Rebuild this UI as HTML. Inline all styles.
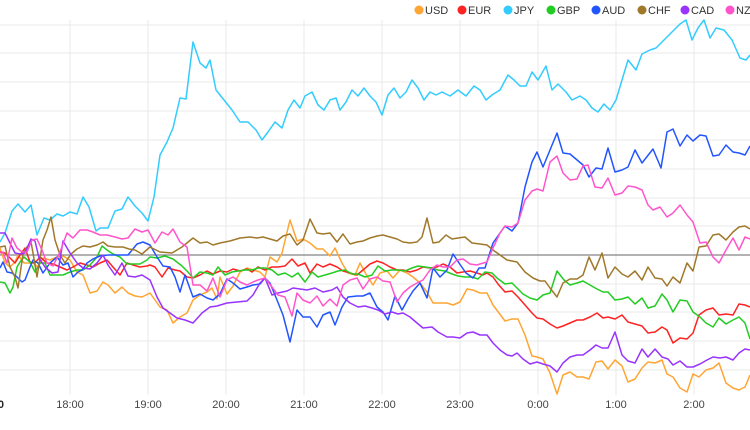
<!DOCTYPE html>
<html><head><meta charset="utf-8"><style>
html,body{margin:0;padding:0;background:#fff;}
svg{display:block;font-family:"Liberation Sans",sans-serif;}
</style></head><body>
<svg width="750" height="430" viewBox="0 0 750 430" xmlns="http://www.w3.org/2000/svg">
<g stroke="#e8e8e8" stroke-width="1">
<line x1="0" y1="25" x2="750" y2="25"/><line x1="0" y1="53" x2="750" y2="53"/><line x1="0" y1="82" x2="750" y2="82"/><line x1="0" y1="111" x2="750" y2="111"/><line x1="0" y1="140" x2="750" y2="140"/><line x1="0" y1="169" x2="750" y2="169"/><line x1="0" y1="198" x2="750" y2="198"/><line x1="0" y1="226" x2="750" y2="226"/><line x1="0" y1="284" x2="750" y2="284"/><line x1="0" y1="312" x2="750" y2="312"/><line x1="0" y1="341" x2="750" y2="341"/><line x1="0" y1="370" x2="750" y2="370"/>
<line x1="70" y1="20" x2="70" y2="395"/><line x1="148" y1="20" x2="148" y2="395"/><line x1="226" y1="20" x2="226" y2="395"/><line x1="304" y1="20" x2="304" y2="395"/><line x1="382" y1="20" x2="382" y2="395"/><line x1="460" y1="20" x2="460" y2="395"/><line x1="538" y1="20" x2="538" y2="395"/><line x1="616" y1="20" x2="616" y2="395"/><line x1="694" y1="20" x2="694" y2="395"/>
</g>
<line x1="0" y1="255" x2="750" y2="255" stroke="#666" stroke-width="1"/>
<g fill="none" stroke-width="1.5" stroke-linejoin="round">
<polyline stroke="#ffa533" points="0,248 5,263 10,267 15,262 18,255 24,263 29,263 33,263 38,267 43,258 50,260 57,257 63,256 70,260 77,272 83,275 90,293 97,291 103,282 108,285 115,293 122,287 128,293 135,296 142,297 150,293 160,307 167,310 173,323 180,317 187,313 193,300 200,295 207,292 212,288 217,299 220,277 227,294 233,286 240,272 247,268 253,270 260,272 265,277 270,257 277,262 282,253 290,220 297,241 303,239 310,243 317,249 323,249 330,256 335,248 342,263 348,273 355,275 360,263 367,276 373,285 380,273 387,271 393,278 400,270 407,273 413,277 420,283 427,292 433,303 440,303 447,303 453,305 460,302 467,289 473,290 480,293 487,293 493,305 505,321 512,319 518,319 525,335 532,356 537,357 543,359 550,373 557,394 563,375 570,372 577,377 583,377 589,379 596,362 602,361 608,369 615,360 622,366 628,382 635,379 642,368 648,362 655,363 662,360 667,374 673,377 680,388 687,392 693,374 699,377 706,370 713,368 719,363 726,383 733,388 739,390 745,387 750,375"/>
<polyline stroke="#ff2222" points="0,252 5,253 10,258 15,263 20,255 25,248 30,262 35,263 40,257 47,263 53,264 60,267 67,270 73,267 80,263 87,265 93,267 100,263 107,260 113,267 120,275 127,263 133,265 140,267 147,266 150,265 155,267 162,277 168,268 175,270 180,271 187,277 193,278 200,275 207,271 213,274 220,271 227,272 233,269 240,271 247,269 252,272 258,267 265,270 272,267 278,267 285,266 292,259 298,266 305,263 310,273 317,264 323,267 330,264 337,267 343,271 350,273 357,275 363,270 370,264 377,261 383,263 390,267 397,270 403,270 410,272 417,270 423,267 430,268 437,267 443,264 450,267 457,273 463,272 470,271 477,273 483,275 487,273 493,277 498,284 505,292 512,291 518,297 525,305 532,313 537,318 543,319 550,324 557,328 563,326 570,323 577,320 583,320 590,317 597,313 603,318 608,317 615,319 622,315 628,322 635,324 642,326 648,333 655,332 662,327 667,330 673,343 680,338 687,339 693,333 699,315 706,310 713,308 719,315 726,314 733,315 739,304 745,305 750,307"/>
<polyline stroke="#33ccff" points="0,242 5,233 12,211 18,204 25,212 31,205 37,235 44,218 50,220 57,214 63,216 70,212 77,214 83,197 89,207 96,231 100,228 108,228 115,211 122,209 128,197 135,206 142,213 148,221 154,197 160,155 167,142 173,128 180,98 186,99 193,42 200,63 206,68 210,60 216,90 224,100 232,110 240,122 248,122 256,130 262,140 268,132 275,122 282,128 288,110 294,100 300,108 305,96 312,92 318,105 324,110 330,100 336,98 340,110 346,102 352,90 358,96 364,88 370,96 376,102 382,115 388,95 394,88 400,98 406,92 412,80 418,88 424,100 430,92 436,95 442,92 450,96 458,90 466,96 474,86 480,90 486,100 492,95 500,90 508,75 514,80 520,86 526,86 532,72 538,80 546,66 552,90 558,84 566,92 572,100 580,96 586,100 592,108 598,112 604,104 610,110 616,100 622,80 628,60 636,70 642,54 650,50 656,48 662,42 668,36 674,30 680,24 686,20 692,40 698,28 704,20 710,38 716,28 724,30 732,40 740,58 746,60 750,55"/>
<polyline stroke="#22cc22" points="0,282 5,283 10,293 13,287 17,267 20,262 24,257 30,262 35,272 40,263 45,263 50,275 57,275 63,275 70,272 77,270 83,270 90,265 97,257 102,246 107,250 113,254 120,257 127,264 133,264 140,264 147,260 150,257 157,258 165,256 173,259 182,266 188,272 193,278 200,272 207,273 213,275 218,267 225,275 232,272 238,271 245,270 252,270 258,268 265,268 272,270 278,275 285,273 292,277 298,273 305,282 312,272 318,277 325,275 332,273 338,271 345,270 352,274 358,274 365,277 372,275 378,266 385,271 392,270 398,270 405,271 412,268 418,266 425,267 432,268 438,270 445,271 452,274 458,276 465,277 472,277 478,279 485,272 492,273 497,278 505,284 512,283 523,294 530,298 537,300 543,295 550,293 557,271 564,280 570,285 577,283 583,281 590,285 597,289 603,292 608,292 615,300 622,299 628,297 635,304 642,298 648,308 655,306 662,294 667,300 673,312 680,300 687,301 693,312 700,317 706,323 713,327 719,318 726,324 733,320 739,317 745,323 750,339"/>
<polyline stroke="#2255ff" points="0,268 3,262 7,272 12,273 17,277 22,282 25,280 30,267 33,260 38,263 43,273 50,263 57,257 63,265 68,263 73,277 78,272 82,270 87,263 93,259 100,256 108,255 115,255 122,255 128,255 137,244 143,242 150,245 157,257 163,266 170,267 175,277 180,292 185,275 193,297 200,294 207,298 213,300 220,294 227,279 233,283 240,289 247,287 253,285 260,284 265,278 270,283 277,300 283,315 290,342 297,310 303,317 310,317 317,327 323,315 330,312 335,325 342,307 348,297 357,296 363,296 370,293 377,307 383,312 388,320 395,296 402,310 408,299 413,291 420,283 427,298 433,268 440,277 447,270 453,254 459,263 466,273 473,278 479,268 485,268 493,243 500,233 505,226 512,231 518,223 525,187 532,162 537,152 543,167 557,133 563,153 570,154 583,165 589,177 596,168 602,169 608,148 615,172 622,170 628,167 635,150 642,163 653,149 661,168 667,132 673,129 680,146 687,135 693,141 700,135 706,136 713,156 719,155 726,145 733,152 739,153 745,155 750,146"/>
<polyline stroke="#a0782a" points="0,247 5,246 10,267 15,277 18,288 23,254 27,247 31,242 33,253 37,277 43,240 47,230 51,217 55,240 60,255 65,263 71,254 77,249 83,246 90,247 97,245 103,242 108,246 115,247 123,247 129,249 135,250 142,254 150,247 160,252 172,253 182,247 193,238 200,243 207,242 213,245 220,243 230,241 240,238 250,237 257,238 263,237 270,239 277,241 283,236 290,234 297,245 303,240 310,219 317,233 323,234 330,233 337,242 343,234 350,244 357,242 363,241 370,238 377,236 383,235 390,237 397,239 403,242 410,243 417,242 422,237 427,218 433,243 439,242 446,235 452,239 458,238 465,237 472,243 480,244 487,245 493,250 500,255 507,260 517,262 525,272 533,278 540,281 545,281 550,288 557,297 563,283 570,279 577,279 583,275 589,257 595,270 602,253 608,278 615,267 622,274 628,277 635,271 642,280 648,267 655,278 662,279 667,286 673,277 680,283 687,263 693,271 699,247 706,246 713,235 719,234 726,240 733,232 739,227 745,226 750,229"/>
<polyline stroke="#9933ff" points="0,233 5,233 10,243 15,253 20,254 25,253 31,239 35,241 39,258 45,267 52,273 58,272 63,241 70,253 77,263 83,268 90,269 97,263 103,255 108,265 115,275 122,263 128,276 135,277 142,275 150,280 157,297 163,308 170,313 177,318 185,320 193,323 202,313 210,307 217,306 227,303 237,302 247,301 253,295 260,283 265,278 272,295 278,293 287,291 293,288 300,289 307,290 315,288 323,292 332,290 337,287 343,297 350,303 358,307 365,306 372,308 378,310 385,314 392,312 398,314 403,313 410,317 417,323 423,328 432,327 438,332 447,337 453,337 460,338 467,333 473,332 480,335 487,335 493,343 500,350 507,355 512,356 517,353 523,359 530,364 537,362 543,364 550,366 557,372 563,363 570,357 577,355 583,355 590,350 596,345 602,348 608,348 615,332 622,355 628,361 635,363 642,349 648,357 655,349 662,357 668,359 673,365 680,361 687,367 693,367 700,364 707,360 713,357 720,358 726,357 733,360 739,353 745,349 750,350"/>
<polyline stroke="#ff55cc" points="0,253 3,252 7,263 12,238 17,248 22,252 27,252 32,240 37,239 42,250 47,263 53,266 60,252 67,233 73,238 80,230 87,230 93,232 100,235 107,235 115,237 122,239 128,238 135,229 142,232 148,230 155,243 162,232 168,235 173,229 180,242 187,247 193,285 200,285 207,291 213,278 220,297 227,280 233,277 240,282 247,285 253,282 258,280 265,278 272,287 278,295 285,297 292,316 297,293 303,300 310,303 317,296 323,306 330,299 337,306 343,285 350,280 357,278 363,289 370,279 377,277 383,281 390,282 397,302 403,293 410,287 417,283 423,280 430,270 437,265 443,267 450,267 457,260 463,259 470,264 477,265 480,264 487,262 493,248 500,233 505,226 512,227 518,223 525,200 532,191 537,189 543,191 550,162 557,156 563,173 570,180 577,179 583,166 588,165 595,187 602,188 608,178 615,195 622,193 628,186 635,187 642,190 648,205 653,210 660,207 667,217 673,213 680,205 687,215 693,222 700,243 706,242 713,257 719,263 726,250 733,238 739,250 745,237 750,239"/>
</g>
<g font-size="11" fill="#444" text-anchor="middle">
<text x="70" y="408">18:00</text><text x="148" y="408">19:00</text><text x="226" y="408">20:00</text><text x="304" y="408">21:00</text><text x="382" y="408">22:00</text><text x="460" y="408">23:00</text><text x="538" y="408">0:00</text><text x="616" y="408">1:00</text><text x="694" y="408">2:00</text>
<text x="4" y="408" text-anchor="end" fill="#222" font-weight="bold">17:00</text>
</g>
<g font-size="11" fill="#333">
<circle cx="419" cy="10" r="4.5" fill="#ffa533"/><text x="425" y="14">USD</text>
<circle cx="462" cy="10" r="4.5" fill="#ff2222"/><text x="468" y="14">EUR</text>
<circle cx="508" cy="10" r="4.5" fill="#33ccff"/><text x="514" y="14">JPY</text>
<circle cx="551" cy="10" r="4.5" fill="#22cc22"/><text x="557" y="14">GBP</text>
<circle cx="596" cy="10" r="4.5" fill="#2255ff"/><text x="602" y="14">AUD</text>
<circle cx="642" cy="10" r="4.5" fill="#a0782a"/><text x="648" y="14">CHF</text>
<circle cx="685" cy="10" r="4.5" fill="#9933ff"/><text x="691" y="14">CAD</text>
<circle cx="730" cy="10" r="4.5" fill="#ff55cc"/><text x="736" y="14">NZD</text>
</g>
</svg>
</body></html>
